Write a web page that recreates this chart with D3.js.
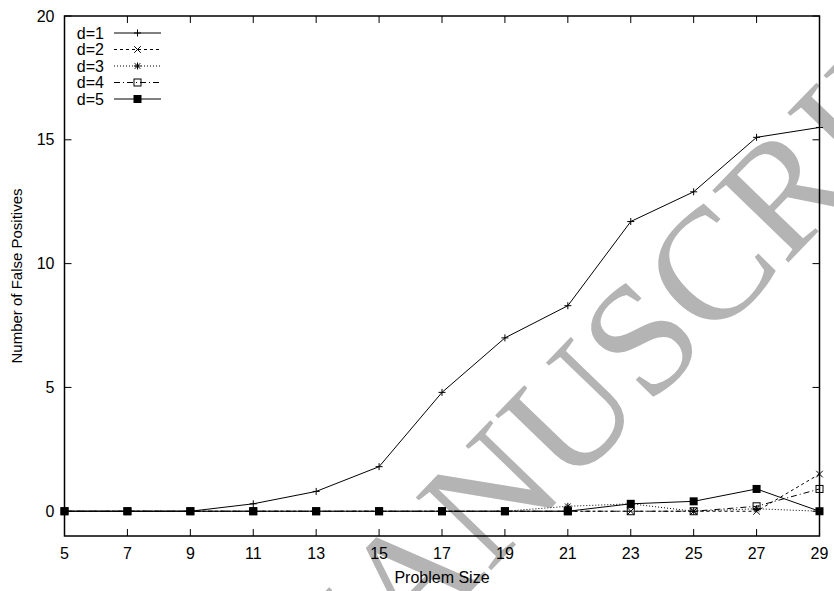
<!DOCTYPE html>
<html>
<head>
<meta charset="utf-8">
<script src="https://d3js.org/d3.v7.min.js"></script>
<style>
  body { margin: 0; background: #fff; }
  text { font-family: "Liberation Sans", Arial, sans-serif; }
</style>
</head>
<body>
<div id="chart"></div>
<script>
const WIDTH = 834
const HEIGHT = 591

const problemSizes = [5, 7, 9, 11, 13, 15, 17, 19, 21, 23, 25, 27, 29]
const seriesNames = ["d=1", "d=2", "d=3", "d=4", "d=5"]
const d1 = [0, 0, 0, 0.3, 0.8, 1.8, 4.8, 7, 8.3, 11.7, 12.9, 15.1, 15.5]
const d2 = [0, 0, 0, 0, 0, 0, 0, 0, 0, 0, 0, 0, 1.5]
const d3v = [0, 0, 0, 0, 0, 0, 0, 0, 0.2, 0.3, 0, 0.1, 0]
const d4 = [0, 0, 0, 0, 0, 0, 0, 0, 0, 0, 0, 0.2, 0.9]
const d5 = [0, 0, 0, 0, 0, 0, 0, 0, 0, 0.3, 0.4, 0.9, 0]
const yTicks = [0, 5, 10, 15, 20]

const series = [d1, d2, d3v, d4, d5].map((vals, i) => ({
  name: seriesNames[i],
  points: vals.map((v, j) => ({ x: problemSizes[j], y: v }))
}))

const margin = { left: 64.5, right: 14.5, top: 16, bottom: 55 }

const x = d3.scaleLinear()
  .domain([5, 29])
  .range([margin.left, WIDTH - margin.right])

const y = d3.scaleLinear()
  .domain([-1, 20])
  .range([HEIGHT - margin.bottom, margin.top])

// line styles per series, gnuplot look
const dashes = [null, "3,3", "1,2", "6,3,1,3", null]

const svg = d3.select("#chart")
  .append("svg")
  .attr("width", WIDTH)
  .attr("height", HEIGHT)

// watermark behind the plot
svg.append("text")
  .attr("transform", "translate(309,759) rotate(-46)")
  .attr("fill", "#b4b4b4")
  .style("font-family", "'Liberation Serif', 'Times New Roman', serif")
  .style("font-size", "160px")
  .text("MANUSCRIPT")

const plotW = WIDTH - margin.left - margin.right
const plotH = HEIGHT - margin.top - margin.bottom

// ticks, inward and mirrored
const tickLen = 7
const axisG = svg.append("g").attr("stroke", "#000").attr("stroke-width", 1)

problemSizes.forEach(v => {
  axisG.append("line")
    .attr("x1", x(v)).attr("x2", x(v))
    .attr("y1", y(-1)).attr("y2", y(-1) - tickLen)
  axisG.append("line")
    .attr("x1", x(v)).attr("x2", x(v))
    .attr("y1", y(20)).attr("y2", y(20) + tickLen)
})
yTicks.forEach(v => {
  axisG.append("line")
    .attr("x1", x(5)).attr("x2", x(5) + tickLen)
    .attr("y1", y(v)).attr("y2", y(v))
  axisG.append("line")
    .attr("x1", x(29)).attr("x2", x(29) - tickLen)
    .attr("y1", y(v)).attr("y2", y(v))
})

svg.append("g")
  .selectAll("text")
  .data(problemSizes)
  .join("text")
  .attr("x", d => x(d))
  .attr("y", y(-1) + 23)
  .attr("text-anchor", "middle")
  .style("font-size", "16px")
  .text(d => d)

svg.append("g")
  .selectAll("text")
  .data(yTicks)
  .join("text")
  .attr("x", x(5) - 10)
  .attr("y", d => y(d) + 5.5)
  .attr("text-anchor", "end")
  .style("font-size", "16px")
  .text(d => d)

svg.append("text")
  .attr("x", margin.left + plotW / 2)
  .attr("y", HEIGHT - 8.5)
  .attr("text-anchor", "middle")
  .style("font-size", "16px")
  .text("Problem Size")

svg.append("text")
  .attr("transform", `translate(22,${margin.top + plotH / 2}) rotate(-90)`)
  .attr("text-anchor", "middle")
  .style("font-size", "15px")
  .text("Number of False Positives")

// markers
function drawMarker(g, i, cx, cy) {
  const s = 3.5
  if (i === 0 || i === 2) {
    g.append("path").attr("d", `M${cx - s},${cy}H${cx + s}M${cx},${cy - s}V${cy + s}`)
      .attr("stroke", "#000").attr("fill", "none")
  }
  if (i === 1 || i === 2) {
    const t = i === 2 ? 2.8 : 3.3
    g.append("path").attr("d", `M${cx - t},${cy - t}L${cx + t},${cy + t}M${cx - t},${cy + t}L${cx + t},${cy - t}`)
      .attr("stroke", "#000").attr("fill", "none")
  }
  if (i === 3) {
    g.append("rect").attr("x", cx - 3.5).attr("y", cy - 3.5).attr("width", 7).attr("height", 7)
      .attr("stroke", "#000").attr("fill", "none")
  }
  if (i === 4) {
    g.append("rect").attr("x", cx - 4).attr("y", cy - 4).attr("width", 8).attr("height", 8)
      .attr("fill", "#000")
  }
}

const line = d3.line().x(d => x(d.x)).y(d => y(d.y))

const plotG = svg.append("g")
series.forEach((s, i) => {
  plotG.append("path")
    .datum(s.points)
    .attr("d", line)
    .attr("fill", "none")
    .attr("stroke", "#000")
    .attr("stroke-width", 1)
    .attr("stroke-dasharray", dashes[i])
  const mg = plotG.append("g")
  s.points.forEach(p => drawMarker(mg, i, x(p.x), y(p.y)))
})

// legend
const legend = svg.append("g")
series.forEach((s, i) => {
  const ly = 33 + i * 16.5
  legend.append("text")
    .attr("x", 104).attr("y", ly + 5.5)
    .attr("text-anchor", "end")
    .style("font-size", "16px")
    .text(s.name)
  legend.append("line")
    .attr("x1", 114).attr("x2", 161)
    .attr("y1", ly).attr("y2", ly)
    .attr("stroke", "#000")
    .attr("stroke-dasharray", dashes[i])
  drawMarker(legend, i, 137.5, ly)
})

// border
svg.append("rect")
  .attr("x", margin.left).attr("y", margin.top)
  .attr("width", plotW).attr("height", plotH)
  .attr("fill", "none")
  .attr("stroke", "#000")
  .attr("stroke-width", 1.5)
</script>
</body>
</html>
